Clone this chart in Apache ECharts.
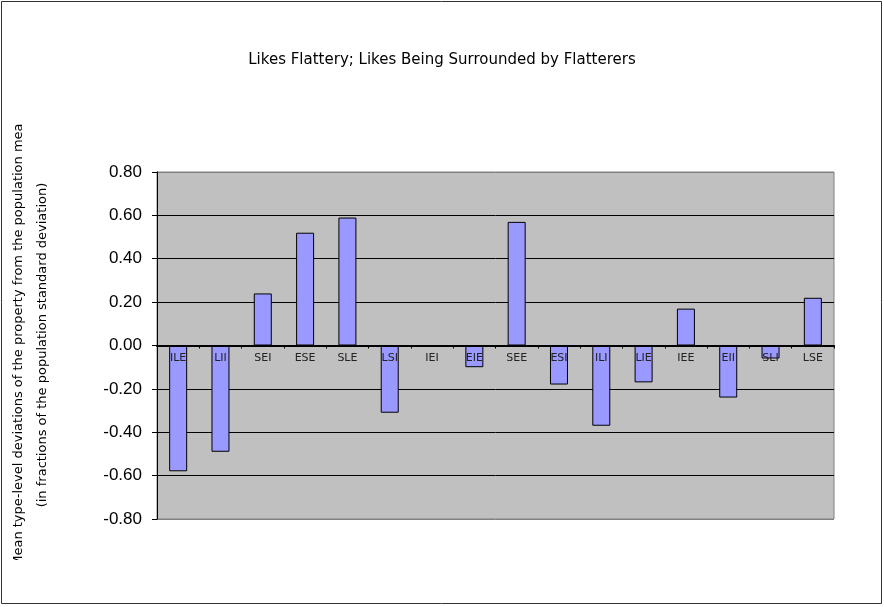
<!DOCTYPE html>
<html>
<head>
<meta charset="utf-8">
<script src="https://cdn.jsdelivr.net/npm/echarts@6/dist/echarts.min.js"></script>
<style>html,body{margin:0;padding:0;background:#fff}#c{width:884px;height:607px}</style>
</head>
<body>
<div id="c"></div>
<script>
const titleText = 'Likes Flattery; Likes Being Surrounded by Flatterers';
const categories = ['ILE','LII','SEI','ESE','SLE','LSI','IEI','EIE','SEE','ESI','ILI','LIE','IEE','EII','SLI','LSE'];
const values = [-0.58,-0.49,0.24,0.52,0.59,-0.31,0.00,-0.10,0.57,-0.18,-0.37,-0.17,0.17,-0.24,-0.06,0.22];
const yAxisLine1 = 'Mean type-level deviations of the property from the population mean';
const yAxisLine2 = '(in fractions of the population standard deviation)';

const chart = echarts.init(document.getElementById('c'), null, {renderer:'canvas'});
const gridColors = ['#808080','#000','#000','#000','#000','#000','#000','#000','#808080'];
chart.setOption({
  animation:false,
  backgroundColor:'#fff',
  title:{
    text:titleText, left:'center', top:48,
    textStyle:{fontFamily:'DejaVu Sans', fontSize:15, fontWeight:'normal', color:'#000'}
  },
  grid:{left:157, right:50, top:172, bottom:88, show:true, backgroundColor:'#C0C0C0', borderColor:'#808080', borderWidth:1},
  xAxis:{
    type:'category', data:categories, z:3,
    offset:-173.5,
    axisLine:{onZero:false, lineStyle:{color:'#000', width:2}},
    axisTick:{show:true, length:3, lineStyle:{color:'#000'}},
    axisLabel:{margin:7, fontFamily:'DejaVu Sans', fontSize:11, color:'#222', interval:0},
    splitLine:{show:false}
  },
  yAxis:{
    type:'value', min:-0.8, max:0.8, interval:0.2,
    axisLine:{show:true, lineStyle:{color:'#000', width:1}},
    axisTick:{show:true, length:5, lineStyle:{color:'#000'}},
    axisLabel:{margin:15, fontFamily:'Liberation Sans', fontSize:17, color:'#000', formatter:v=>v.toFixed(2)},
    splitLine:{show:true, lineStyle:{color:gridColors, width:1}}
  },
  series:[{
    type:'bar', data:values, barWidth:18,
    itemStyle:{color:'#9999FF', borderColor:'#000', borderWidth:1}
  }],
  graphic:[
    {type:'text', x:19, y:341, rotation:Math.PI/2, z:10,
     style:{text:yAxisLine1, fontFamily:'DejaVu Sans', fontSize:13, fill:'#000', align:'center', verticalAlign:'middle'}},
    {type:'rect', shape:{x:4, y:0, width:26, height:123}, style:{fill:'#fff'}, z:11},
    {type:'rect', shape:{x:4, y:560, width:26, height:42}, style:{fill:'#fff'}, z:11},
    {type:'text', x:43, y:345, rotation:Math.PI/2, z:10,
     style:{text:yAxisLine2, fontFamily:'DejaVu Sans', fontSize:13, fill:'#000', align:'center', verticalAlign:'middle'}},
    {type:'rect', shape:{x:1.5, y:1.5, width:880, height:602}, style:{fill:'none', stroke:'#333', lineWidth:1}, z:12}
  ]
});
</script>
</body>
</html>
